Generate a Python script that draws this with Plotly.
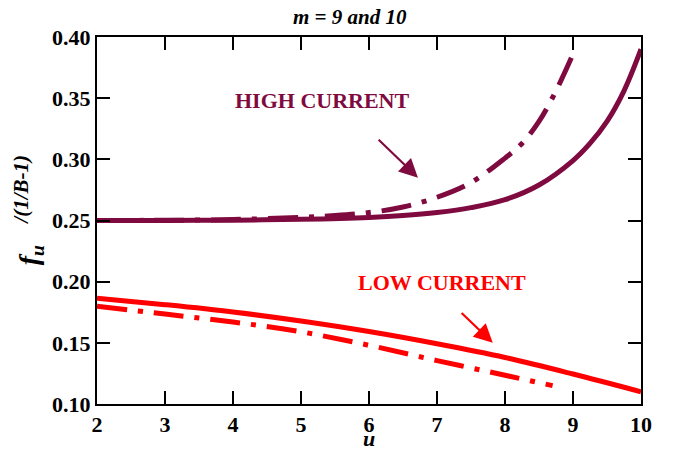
import plotly.graph_objects as go

# ---- data ----
u_high_solid = [2, 3, 4, 5, 6, 6.5, 7, 7.5, 8, 8.5, 9, 9.25, 9.5, 9.75, 10]
f_high_solid = [0.250, 0.2500, 0.2503, 0.2510, 0.2525, 0.2540, 0.2565, 0.2605,
                0.2670, 0.2790, 0.2990, 0.3130, 0.3310, 0.3560, 0.3900]

u_high_dd = [2, 3, 4, 5, 5.5, 6, 6.5, 7, 7.5, 8, 8.25, 8.5, 8.75, 9.0]
f_high_dd = [0.250, 0.2502, 0.2508, 0.2525, 0.2540, 0.2565, 0.2610, 0.2690,
             0.2810, 0.3010, 0.3130, 0.3310, 0.3560, 0.3860]

u_low_solid = [2, 3, 4, 5, 6, 7, 8, 9, 10]
f_low_solid = [0.1865, 0.1812, 0.1752, 0.1678, 0.1592, 0.1492, 0.1380, 0.1245, 0.1100]

u_low_dd = [2, 3, 4, 5, 6, 7, 8, 8.7]
f_low_dd = [0.1800, 0.1735, 0.1670, 0.1590, 0.1480, 0.1355, 0.1235, 0.1150]

x_ticks = [2, 3, 4, 5, 6, 7, 8, 9, 10]
y_ticks = [0.10, 0.15, 0.20, 0.25, 0.30, 0.35, 0.40]

MAROON = "#7f0a40"
RED = "#ff0000"
FONT = "Liberation Serif"
DASHDOT = "30px,11px,5px,11px"
LW = 5

fig = go.Figure()
fig.add_trace(go.Scatter(x=u_high_solid, y=f_high_solid, mode="lines",
                         line=dict(color=MAROON, width=LW, shape="spline"), showlegend=False))
fig.add_trace(go.Scatter(x=u_high_dd, y=f_high_dd, mode="lines",
                         line=dict(color=MAROON, width=LW, dash=DASHDOT, shape="spline"), showlegend=False))
fig.add_trace(go.Scatter(x=u_low_solid, y=f_low_solid, mode="lines",
                         line=dict(color=RED, width=LW, shape="spline"), showlegend=False))
fig.add_trace(go.Scatter(x=u_low_dd, y=f_low_dd, mode="lines",
                         line=dict(color=RED, width=LW, dash=DASHDOT, shape="spline"), showlegend=False))

axis_common = dict(showline=True, linecolor="black", linewidth=2, mirror="ticks",
                   ticks="inside", ticklen=13, tickwidth=2, tickcolor="black",
                   showgrid=False, zeroline=False,
                   tickfont=dict(family=FONT, size=22, color="black", weight="bold"))

fig.update_xaxes(range=[2, 10], tickvals=x_ticks, ticktext=[str(v) for v in x_ticks],
                 **axis_common)
fig.update_yaxes(range=[0.10, 0.40], tickvals=y_ticks,
                 ticktext=[f"{v:.2f}" for v in y_ticks], **axis_common)

annotations = [
    dict(text="<b><i>m = 9 and 10</i></b>", xref="paper", yref="paper", x=0.465, y=1.0,
         yanchor="middle", yshift=20, showarrow=False,
         font=dict(family=FONT, size=21, color="black")),
    dict(text="<b><i>u</i></b>", xref="paper", yref="paper", x=0.5, y=0,
         yanchor="middle", yshift=-34, showarrow=False,
         font=dict(family=FONT, size=22, color="black")),
    # y-axis label, in two parts: f_u and /(1/B-1)
    dict(text="<b><i>f<sub>u</sub></i></b>", xref="paper", yref="paper",
         x=0, xanchor="center", xshift=-67, y=0.405, yanchor="middle", textangle=-90,
         showarrow=False, font=dict(family=FONT, size=28, color="black")),
    dict(text="<b><i>/(1/B-1)</i></b>", xref="paper", yref="paper",
         x=0, xanchor="center", xshift=-76, y=0.584, yanchor="middle", textangle=-90,
         showarrow=False, font=dict(family=FONT, size=21, color="black")),
    dict(text="<b>HIGH CURRENT</b>", x=5.32, y=0.3477, showarrow=False,
         font=dict(family=FONT, size=22, color=MAROON)),
    dict(text="<b>LOW CURRENT</b>", x=7.07, y=0.199, showarrow=False,
         font=dict(family=FONT, size=22, color=RED)),
    dict(text="", x=6.72, y=0.285, ax=6.12, ay=0.3172, axref="x", ayref="y",
         showarrow=True, arrowhead=2, arrowsize=1.7, arrowwidth=2.2, arrowcolor=MAROON),
    dict(text="", x=7.82, y=0.150, ax=7.34, ay=0.1756, axref="x", ayref="y",
         showarrow=True, arrowhead=2, arrowsize=1.7, arrowwidth=2.2, arrowcolor=RED),
]

# The page body adds an 8px margin, so the figure is sized to keep the plot frame
# at the reference's pixel location inside the 678x457 window.
fig.update_layout(width=662, height=441, margin=dict(l=89, r=29, t=29, b=39),
                  paper_bgcolor="white", plot_bgcolor="white",
                  annotations=annotations)

fig.write_html("out.html")
